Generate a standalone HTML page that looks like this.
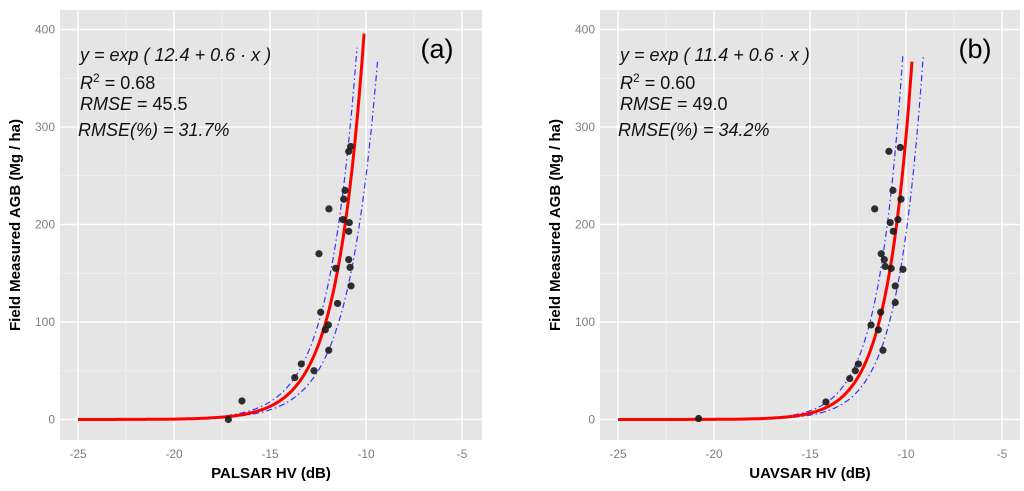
<!DOCTYPE html>
<html><head><meta charset="utf-8"><style>
body{margin:0;background:#fff;width:1024px;height:486px;overflow:hidden}
svg{font-family:"Liberation Sans",sans-serif}
</style></head><body>
<svg id="chart" width="1024" height="486" xmlns="http://www.w3.org/2000/svg"></svg>
<script>
const xTicks=[-25,-20,-15,-10,-5];
const yTicks=[0,100,200,300,400];
const palsarX=[-11.09,-11.16,-11.93,-11.2,-10.87,-10.9,-12.45,-10.9,-10.83,-11.58,-10.78,-11.48,-12.36,-11.96,-12.12,-11.94,-13.37,-12.71,-13.71,-16.46,-17.17,-10.8,-10.9];
const palsarY=[235,226,216,205,202,193,170,164,156,155,137,119,110,97,92,71,57,50,43,19,0,280,275];
const uavsarX=[-10.3,-10.89,-10.68,-10.26,-11.63,-10.82,-10.42,-10.66,-11.29,-11.13,-11.08,-10.77,-10.16,-10.56,-10.56,-11.32,-11.82,-11.44,-11.2,-12.48,-12.64,-12.93,-14.17,-20.8];
const uavsarY=[279,275,235,226,216,202,205,193,170,164,157,155,154,137,120,110,97,92,71,57,50,42,18,1];
// curve params [a,b,xEnd] for y=exp(a+b*x)
const palsarFit=[12.95,0.69,-10.1];
const palsarUpper=[12.99,0.673,-10.47];
const palsarLower=[11.97,0.645,-9.4];
const uavsarFit=[13.27,0.76,-9.69];
const uavsarUpper=[13.76,0.771,-10.16];
const uavsarLower=[12.74,0.749,-9.1];
const panels=[
 {id:"a",x0:78,title:"PALSAR HV (dB)",px:palsarX,py:palsarY,fit:palsarFit,up:palsarUpper,lo:palsarLower,
  eq:["y = exp ( 12.4 + 0.6 · x )","0.68","45.5","RMSE(%) = 31.7%"],left:60,right:482},
 {id:"b",x0:618,title:"UAVSAR HV (dB)",px:uavsarX,py:uavsarY,fit:uavsarFit,up:uavsarUpper,lo:uavsarLower,
  eq:["y = exp ( 11.4 + 0.6 · x )","0.60","49.0","RMSE(%) = 34.2%"],left:600,right:1020}
];
const svg=document.getElementById('chart');
const NS="http://www.w3.org/2000/svg";
function el(t,a,p){const e=document.createElementNS(NS,t);for(const k in a)e.setAttribute(k,a[k]);(p||svg).appendChild(e);return e;}
panels.forEach(P=>{
 const sx=v=>P.x0+(v+25)*19.2;
 const sy=v=>419.5-v*0.975;
 const g=el('g',{});
 
 
 const bg=el('rect',{x:P.left,y:10,width:P.right-P.left,height:430,fill:'#e5e5e5'},g);
 
 
 for(let i=0;i<=xTicks.length;i++){
  const m=(i<xTicks.length?xTicks[i]:xTicks[i-1]+5)-2.5;
  if(sx(m)>P.left && sx(m)<P.right) el('line',{x1:sx(m),x2:sx(m),y1:10,y2:440,stroke:'#f2f2f2','stroke-width':0.8},g);
 }
 for(let i=0;i<yTicks.length;i++){const m=yTicks[i]+50;el('line',{x1:P.left,x2:P.right,y1:sy(m),y2:sy(m),stroke:'#f2f2f2','stroke-width':0.8},g);}
 xTicks.forEach(t=>{
  el('line',{x1:sx(t),x2:sx(t),y1:10,y2:440,stroke:'#fff','stroke-width':1.5},g);
  const tx=el('text',{x:sx(t),y:458,'font-size':12,fill:'#7f7f7f','text-anchor':'middle'},g);tx.textContent=t;
  
  
 });
 yTicks.forEach(t=>{
  el('line',{x1:P.left,x2:P.right,y1:sy(t),y2:sy(t),stroke:'#fff','stroke-width':1.5},g);
  const tx=el('text',{x:P.left-5,y:sy(t)+4,'font-size':12,fill:'#7f7f7f','text-anchor':'end'},g);tx.textContent=t;
  
  
 });
 const curve=(p)=>{const [a,b,xe]=p;let d='';for(let x=-25;x<=xe+1e-9;x+=0.05){d+=(d?'L':'M')+sx(x).toFixed(1)+','+sy(Math.exp(a+b*x)).toFixed(1);}d+='L'+sx(xe).toFixed(1)+','+sy(Math.exp(a+b*xe)).toFixed(1);return d;};
 const up=el('path',{d:curve(P.up),fill:'none',stroke:'#3333ff','stroke-width':1.2,'stroke-dasharray':'6,3,1.5,3'},g);
 
 
 const lo=el('path',{d:curve(P.lo),fill:'none',stroke:'#3333ff','stroke-width':1.2,'stroke-dasharray':'6,3,1.5,3'},g);
 
 
 const fl=el('path',{d:curve(P.fit),fill:'none',stroke:'#ff0000','stroke-width':3},g);
 
 
 P.px.forEach((v,i)=>{
  const c=el('circle',{cx:sx(v),cy:sy(P.py[i]),r:3.6,fill:'#1a1a1a','fill-opacity':0.9},g);
  
  
 });
 const lx=P.left+20;
 const t1=el('text',{x:lx,y:61,'font-size':18,'font-style':'italic',fill:'#111'},g);t1.textContent=P.eq[0];
 
 
 const t2=el('text',{x:lx,y:89,'font-size':18,fill:'#111'},g);
 t2.innerHTML='<tspan font-style="italic">R</tspan><tspan dy="-7" font-size="12">2</tspan><tspan dy="7"> = '+P.eq[1]+'</tspan>';
 
 
 const t3=el('text',{x:lx,y:110,'font-size':18,fill:'#111'},g);
 t3.innerHTML='<tspan font-style="italic">RMSE</tspan> = '+P.eq[2];
 
 
 const t4=el('text',{x:lx-2,y:136,'font-size':18,'font-style':'italic',fill:'#111'},g);t4.textContent=P.eq[3];
 
 
 const pl=el('text',{x:P.right-45,y:58,'font-size':27,'text-anchor':'middle',fill:'#000'},g);pl.textContent='('+P.id+')';
 
 
 const xt=el('text',{x:(P.left+P.right)/2,y:478,'font-size':15,'font-weight':'bold','text-anchor':'middle'},g);xt.textContent=P.title;
 
 
 const yx=P.left-40;
 const yt=el('text',{x:yx,y:225,'font-size':15,'font-weight':'bold','text-anchor':'middle',transform:'rotate(-90 '+yx+' 225)'},g);yt.textContent='Field Measured AGB (Mg / ha)';
 
 
});
</script>
</body></html>
